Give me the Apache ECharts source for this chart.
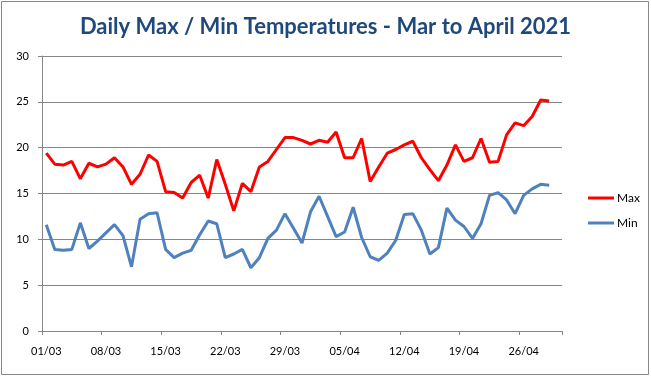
<!DOCTYPE html>
<html>
<head>
<meta charset="utf-8">
<script src="https://cdn.jsdelivr.net/npm/echarts@6/dist/echarts.min.js"></script>
<style>
  html, body { margin: 0; padding: 0; background: #fff; }
  #main { width: 651px; height: 377px; }
</style>
</head>
<body>
<div id="main"></div>
<script>
var days = [
  '01/03', '02/03', '03/03', '04/03', '05/03', '06/03', '07/03', '08/03', '09/03', '10/03',
  '11/03', '12/03', '13/03', '14/03', '15/03', '16/03', '17/03', '18/03', '19/03', '20/03',
  '21/03', '22/03', '23/03', '24/03', '25/03', '26/03', '27/03', '28/03', '29/03', '30/03',
  '31/03', '01/04', '02/04', '03/04', '04/04', '05/04', '06/04', '07/04', '08/04', '09/04',
  '10/04', '11/04', '12/04', '13/04', '14/04', '15/04', '16/04', '17/04', '18/04', '19/04',
  '20/04', '21/04', '22/04', '23/04', '24/04', '25/04', '26/04', '27/04', '28/04', '29/04',
  '30/04'
];

var maxTemps = [
  19.4, 18.2, 18.1, 18.5, 16.6, 18.3, 17.9, 18.2, 18.9, 17.9,
  16.0, 17.1, 19.2, 18.5, 15.2, 15.1, 14.5, 16.2, 17.0, 14.5,
  18.7, 16.0, 13.1, 16.1, 15.2, 17.9, 18.5, 19.8, 21.1, 21.1,
  20.8, 20.4, 20.8, 20.6, 21.7, 18.9, 18.9, 21.0, 16.3, 17.9,
  19.4, 19.8, 20.3, 20.7, 18.9, 17.6, 16.4, 18.1, 20.3, 18.5,
  18.9, 21.0, 18.4, 18.5, 21.4, 22.7, 22.4, 23.4, 25.2, 25.1,
  null
];

var minTemps = [
  11.6, 8.9, 8.8, 8.9, 11.8, 9.0, 9.8, 10.7, 11.6, 10.4,
  7.0, 12.2, 12.8, 12.9, 8.9, 8.0, 8.5, 8.8, 10.5, 12.0,
  11.7, 8.0, 8.4, 8.9, 6.9, 8.0, 10.1, 11.0, 12.8, 11.2,
  9.6, 13.0, 14.7, 12.5, 10.3, 10.8, 13.5, 10.2, 8.1, 7.7,
  8.5, 9.9, 12.7, 12.8, 11.0, 8.4, 9.1, 13.4, 12.1, 11.4,
  10.1, 11.7, 14.8, 15.1, 14.3, 12.8, 14.8, 15.5, 16.0, 15.9,
  null
];

var myChart = echarts.init(document.getElementById('main'));

var labelFont = 'Lato, "Open Sans", sans-serif';
var gridGray = '#868686';

var option = {
  animation: false,
  backgroundColor: '#fff',
  graphic: [{
    type: 'rect',
    shape: { x: 1.5, y: 1.5, width: 647, height: 373 },
    style: { fill: 'none', stroke: '#888', lineWidth: 1 },
    silent: true
  }],
  title: {
    text: 'Daily Max / Min Temperatures - Mar to April 2021',
    left: 'center',
    top: 11,
    textStyle: {
      fontFamily: labelFont,
      fontWeight: 'bold',
      fontSize: 22,
      color: '#1F497D'
    }
  },
  legend: {
    data: ['Max', 'Min'],
    orient: 'vertical',
    left: 583,
    top: 187,
    icon: 'rect',
    itemWidth: 26,
    itemHeight: 3,
    itemGap: 13,
    textStyle: { fontFamily: labelFont, fontSize: 12, color: '#000', padding: [0, 0, 0, -2] }
  },
  grid: {
    left: 42,
    right: 89,
    top: 56,
    bottom: 46,
    containLabel: false
  },
  xAxis: {
    type: 'category',
    data: days,
    boundaryGap: true,
    axisLine: { lineStyle: { color: gridGray, width: 1 } },
    axisTick: { show: true, interval: 6, length: 4, lineStyle: { color: gridGray } },
    axisLabel: {
      interval: 6,
      fontFamily: labelFont,
      fontSize: 11,
      color: '#000',
      margin: 15
    },
    splitLine: { show: false }
  },
  yAxis: {
    type: 'value',
    min: 0,
    max: 30,
    interval: 5,
    axisLine: { show: true, lineStyle: { color: gridGray, width: 1 } },
    axisTick: { show: true, length: 4, lineStyle: { color: gridGray } },
    axisLabel: {
      fontFamily: labelFont,
      fontSize: 11,
      color: '#000',
      margin: 13
    },
    splitLine: { show: true, lineStyle: { color: gridGray, width: 1 } }
  },
  series: [
    {
      name: 'Max',
      type: 'line',
      data: maxTemps,
      symbol: 'none',
      color: '#FF0000',
      lineStyle: { width: 3, color: '#FF0000' }
    },
    {
      name: 'Min',
      type: 'line',
      data: minTemps,
      symbol: 'none',
      color: '#4F81BD',
      lineStyle: { width: 3, color: '#4F81BD' }
    }
  ]
};

myChart.setOption(option);
</script>
</body>
</html>
